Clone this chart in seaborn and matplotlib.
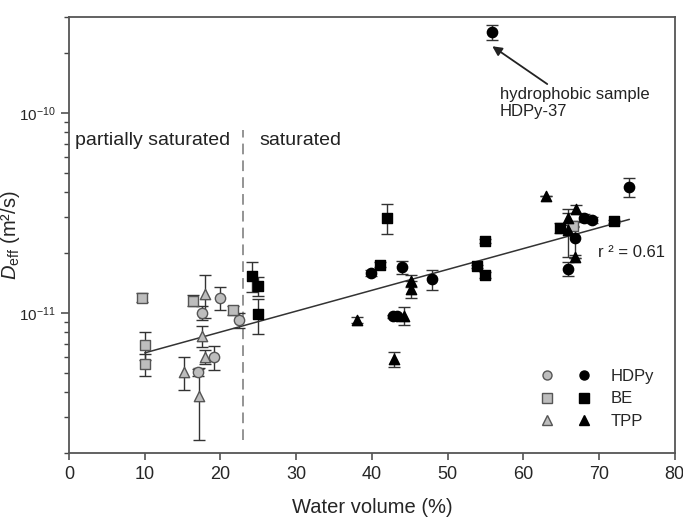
import numpy as np
import pandas as pd
import matplotlib
matplotlib.use("Agg")
import matplotlib.pyplot as plt
import matplotlib.ticker as mticker
from matplotlib.lines import Line2D
from matplotlib.legend_handler import HandlerTuple
import seaborn as sns

sns.set_theme(style="ticks")
plt.rcParams["font.family"] = ["Liberation Sans", "DejaVu Sans"]
plt.rcParams["mathtext.fontset"] = "custom"
plt.rcParams["mathtext.rm"] = "Liberation Sans"
plt.rcParams["mathtext.it"] = "Liberation Sans:italic"

# partially saturated samples (open grey symbols)
hdpy_open_x = [20.0, 17.5, 22.4, 19.2, 17.1]
hdpy_open_y = [1.19e-11, 1.00e-11, 9.2e-12, 6.0e-12, 5.05e-12]
hdpy_open_err = [1.6e-12, 0.8e-12, 0.8e-12, 0.85e-12, 0.2e-12]

be_open_x = [9.7, 10.0, 10.0, 16.4, 21.6, 66.6]
be_open_y = [1.19e-11, 6.9e-12, 5.55e-12, 1.15e-11, 1.03e-11, 2.7e-11]
be_open_err = [0.6e-12, 1.1e-12, 0.7e-12, 0.7e-12, 0.5e-12, 0.3e-12]

tpp_open_x = [18.0, 17.6, 18.0, 15.25, 17.2]
tpp_open_y = [1.24e-11, 7.66e-12, 6.03e-12, 5.05e-12, 3.82e-12]
tpp_open_err = [3.0e-12, 0.95e-12, 0.5e-12, 0.95e-12, 1.5e-12]

# saturated samples (black symbols)
hdpy_x = [39.9, 43.96, 47.9, 42.8, 43.3, 55.9, 65.85, 66.85, 68.0, 69.06, 74.0]
hdpy_y = [1.58e-11, 1.69e-11, 1.47e-11, 9.6e-12, 9.6e-12, 2.54e-10,
          1.66e-11, 2.37e-11, 2.98e-11, 2.90e-11, 4.25e-11]
hdpy_err = [0.5e-12, 1.2e-12, 1.7e-12, 0.2e-12, 0.2e-12, 2.2e-11,
            1.3e-12, 5.0e-12, 1.5e-12, 1.0e-12, 4.5e-12]

be_x = [24.2, 25.0, 25.0, 41.97, 41.1, 53.9, 55.0, 54.97, 64.8, 72.0]
be_y = [1.53e-11, 1.36e-11, 9.82e-12, 2.99e-11, 1.74e-11, 1.71e-11,
        1.55e-11, 2.29e-11, 2.66e-11, 2.87e-11]
be_err = [2.6e-12, 1.5e-12, 1.95e-12, 5.0e-12, 0.5e-12, 0.3e-12,
          0.5e-12, 0.6e-12, 1.5e-12, 0.5e-12]

tpp_x = [38.0, 44.2, 42.95, 45.15, 45.15, 63.0, 65.85, 67.0, 65.85, 66.85]
tpp_y = [9.17e-12, 9.64e-12, 5.87e-12, 1.44e-11, 1.31e-11, 3.82e-11,
         2.96e-11, 3.30e-11, 2.59e-11, 1.91e-11]
tpp_err = [0.3e-12, 1.0e-12, 0.5e-12, 1.0e-12, 1.3e-12, 0.0,
           2.0e-12, 1.5e-12, 7.0e-12, 0.3e-12]

# log-linear fit, r2 = 0.61
fit_x = [10, 74]
fit_y = [6.3e-12, 2.93e-11]

boundary_x = 23
boundary_y = [2.3e-12, 8.2e-11]

hydrophobic_point = (55.9, 2.15e-10)
hydrophobic_tail = (56.9, 1.34e-10)

groups = [
    ("HDPy", "partial", "o", hdpy_open_x, hdpy_open_y, hdpy_open_err),
    ("BE", "partial", "s", be_open_x, be_open_y, be_open_err),
    ("TPP", "partial", "^", tpp_open_x, tpp_open_y, tpp_open_err),
    ("HDPy", "saturated", "o", hdpy_x, hdpy_y, hdpy_err),
    ("BE", "saturated", "s", be_x, be_y, be_err),
    ("TPP", "saturated", "^", tpp_x, tpp_y, tpp_err),
]

face = {"partial": "#bdbdbd", "saturated": "black"}
edge = {"partial": "#555555", "saturated": "black"}

fig, ax = plt.subplots(figsize=(6.83, 5.25), dpi=100)
fig.subplots_adjust(left=0.101, right=0.988, bottom=0.138, top=0.967)

ax.plot([boundary_x, boundary_x], boundary_y, color="#777777",
        linestyle=(0, (7, 4)), linewidth=1.1, zorder=1)
ax.plot(fit_x, fit_y, color="#333333", linewidth=1.1, zorder=2)

for name, state, marker, x, y, err in groups:
    df = pd.DataFrame({"water": x, "deff": y, "err": err})
    ax.errorbar(df["water"], df["deff"], yerr=df["err"], fmt="none",
                ecolor="#333333", elinewidth=1, capsize=4.5, capthick=1, zorder=3)
    sns.scatterplot(data=df, x="water", y="deff", marker=marker, s=55,
                    color=face[state], edgecolor=edge[state], linewidth=1,
                    ax=ax, zorder=4, legend=False)

ax.set_yscale("log")
ax.set_xlim(0, 80)
ax.set_ylim(2e-12, 3e-10)
ax.set_xticks(range(0, 81, 10))
ax.yaxis.set_minor_formatter(mticker.NullFormatter())

ax.set_xlabel("Water volume (%)", fontsize=14.5)
ax.xaxis.set_label_coords(0.5, -0.105)
ax.set_ylabel(r"$D_{\mathrm{eff}}$ (m²/s)", fontsize=14.5)
ax.yaxis.set_label_coords(-0.078, 0.5)
ax.tick_params(axis="x", labelsize=13, direction="out", length=5, width=1.1,
               color="#444444", pad=5)
ax.tick_params(axis="y", which="major", labelsize=11, direction="out",
               length=6, width=1.1, color="#444444")
ax.tick_params(axis="y", which="minor", direction="out", length=3.5,
               width=1.0, color="#444444")
for sp in ax.spines.values():
    sp.set_color("#555555")
    sp.set_linewidth(1.3)

ax.text(0.01, 0.718, "partially saturated", transform=ax.transAxes,
        fontsize=14, va="center", ha="left", color="#222222")
ax.text(0.315, 0.718, "saturated", transform=ax.transAxes,
        fontsize=14, va="center", ha="left", color="#222222")
ax.text(0.873, 0.459, "r ² = 0.61", transform=ax.transAxes,
        fontsize=12, va="center", ha="left", color="#222222")
ax.annotate("hydrophobic sample\nHDPy-37", xy=hydrophobic_point,
            xytext=hydrophobic_tail, fontsize=12, color="#222222",
            ha="left", va="top", linespacing=1.1,
            arrowprops=dict(arrowstyle="-|>", color="#222222", lw=1.3,
                            mutation_scale=14, shrinkA=0, shrinkB=0))

handles = []
for i in range(3):
    name, _, marker = groups[i][:3]
    h_open = Line2D([], [], linestyle="none", marker=marker, markersize=6.5,
                    markerfacecolor=face["partial"], markeredgecolor=edge["partial"])
    h_full = Line2D([], [], linestyle="none", marker=marker, markersize=6.5,
                    markerfacecolor="black", markeredgecolor="black")
    handles.append((h_open, h_full))
ax.legend(handles, ["HDPy", "BE", "TPP"],
          handler_map={tuple: HandlerTuple(ndivide=None, pad=1.4)},
          loc="lower right", bbox_to_anchor=(0.99, 0.02), frameon=False,
          fontsize=12, handlelength=3.0, handletextpad=1.2, labelspacing=0.45)

plt.savefig("out.png", dpi=100)
plt.close()
